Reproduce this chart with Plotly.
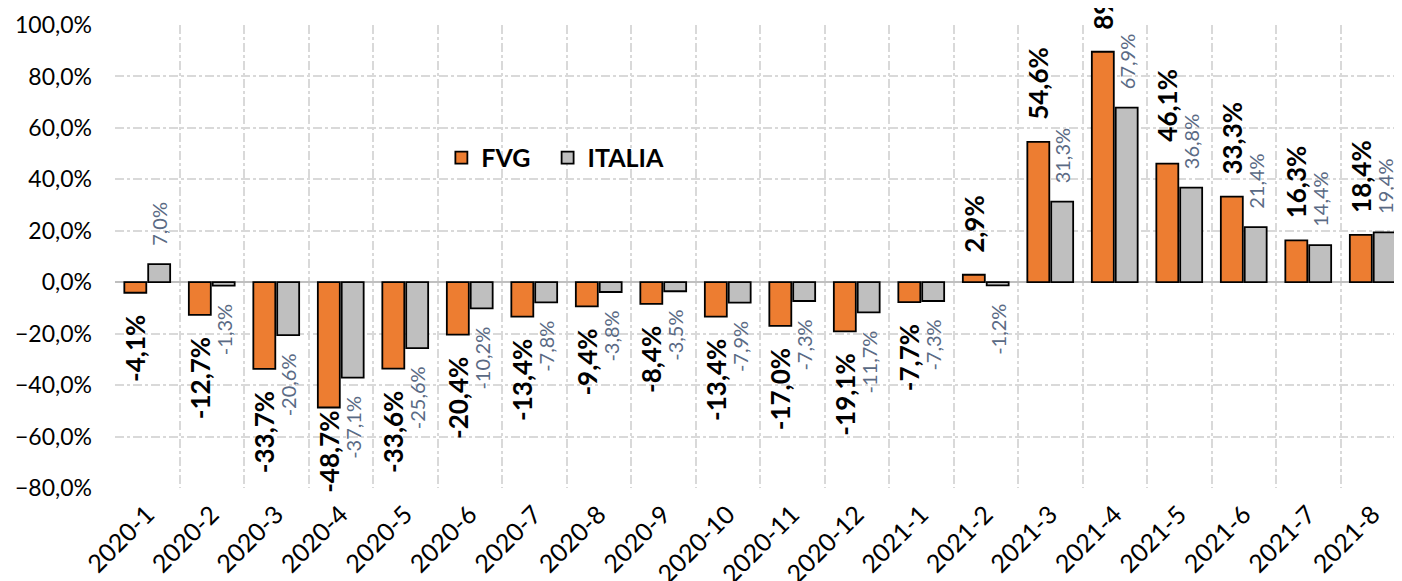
import plotly.graph_objects as go

categories = ["2020-1", "2020-2", "2020-3", "2020-4", "2020-5", "2020-6", "2020-7",
              "2020-8", "2020-9", "2020-10", "2020-11", "2020-12", "2021-1", "2021-2",
              "2021-3", "2021-4", "2021-5", "2021-6", "2021-7", "2021-8"]
fvg = [-4.1, -12.7, -33.7, -48.7, -33.6, -20.4, -13.4, -9.4, -8.4, -13.4,
       -17.0, -19.1, -7.7, 2.9, 54.6, 89.6, 46.1, 33.3, 16.3, 18.4]
italia = [7.0, -1.3, -20.6, -37.1, -25.6, -10.2, -7.8, -3.8, -3.5, -7.9,
          -7.3, -11.7, -7.3, -1.2, 31.3, 67.9, 36.8, 21.4, 14.4, 19.4]

FONT = "Lato"
PAD = "\u00a0\u00a0\u00a0"


def labels(vals):
    out = []
    for v in vals:
        s = f"{v:.1f}".replace(".", ",") + "%"
        if v >= 0:
            out.append(PAD + s)
        elif v < -45:
            out.append(s)  # kept inside the plot area, as in the reference
        else:
            out.append(s + PAD)
    return out


fig = go.Figure()
fig.add_trace(go.Bar(
    name="FVG\u00a0\u00a0", x=categories, y=fvg,
    marker=dict(color="#ED7D31", line=dict(color="black", width=1.8)),
    text=labels(fvg), textposition="outside", textangle=-90,
    textfont=dict(family=FONT, size=26, color="black", weight="bold"),
    cliponaxis=False, constraintext="none",
))
fig.add_trace(go.Bar(
    name="ITALIA", x=categories, y=italia,
    marker=dict(color="#BFBFBF", line=dict(color="black", width=1.8)),
    text=labels(italia), textposition="outside", textangle=-90,
    textfont=dict(family=FONT, size=20, color="#5A6A84"),
    cliponaxis=False, constraintext="none",
))

fig.update_layout(
    width=1402, height=581,
    margin=dict(l=107, r=5, t=17, b=101, autoexpand=False),
    plot_bgcolor="white", paper_bgcolor="white",
    separators=",.",
    barmode="group", bargap=0.26, bargroupgap=0.08,
    font=dict(family=FONT, color="black"),
    showlegend=True,
    legend=dict(orientation="h", x=0.253, y=0.713, xanchor="left", yanchor="middle",
                font=dict(family=FONT, size=25, color="black", weight="bold"),
                bgcolor="rgba(0,0,0,0)", traceorder="normal"),
)
fig.update_xaxes(
    type="category", tickson="boundaries", showgrid=True, automargin=False,
    gridcolor="#D9D9D9", griddash="dashdot", gridwidth=1.5,
    tickangle=-45, tickfont=dict(family=FONT, size=25, color="black"),
    ticks="", showline=False, zeroline=False, ticklabelstandoff=6,
)
fig.update_yaxes(
    range=[-80, 100], dtick=20, tickformat=".1f", ticksuffix="%", automargin=False,
    showgrid=True, gridcolor="#D9D9D9", griddash="dashdot", gridwidth=1.5,
    zeroline=True, zerolinecolor="#BFBFBF", zerolinewidth=1.5,
    tickfont=dict(family=FONT, size=23, color="black"),
    showline=False, ticks="", ticklabelstandoff=22,
)

fig.write_html("out.html")
